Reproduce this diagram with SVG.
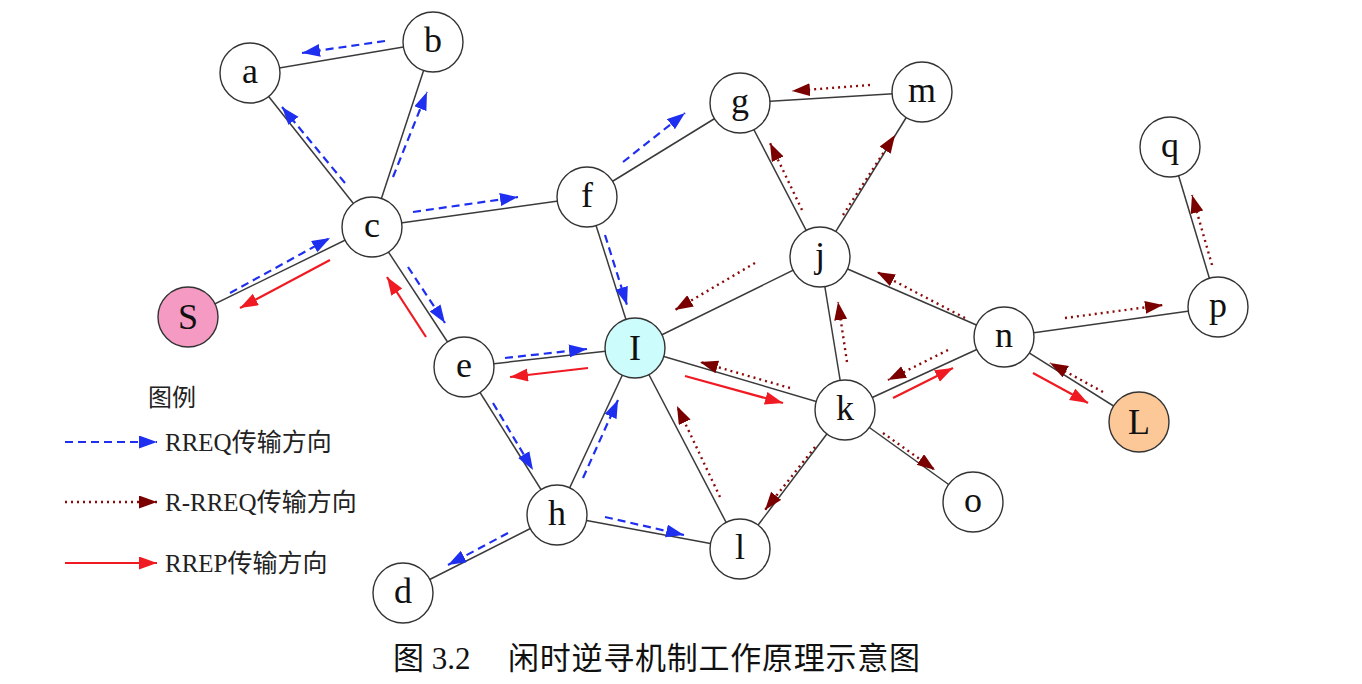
<svg xmlns="http://www.w3.org/2000/svg" width="1362" height="684" viewBox="0 0 1362 684">
<style>
.edge{stroke:#3a3a3a;stroke-width:1.5;fill:none}
.node circle{fill:#fff;stroke:#333;stroke-width:1.4}
.node text{font-family:"Liberation Serif","Times New Roman",serif;font-size:36px;text-anchor:middle;fill:#111}
.req{stroke:#1f2ff0;stroke-width:2.2;stroke-dasharray:8 5;fill:none;marker-end:url(#mb)}
.rreq{stroke:#8a0a0a;stroke-width:2.4;stroke-dasharray:2 4;fill:none;marker-end:url(#md)}
.rep{stroke:#f01a22;stroke-width:2.2;fill:none;marker-end:url(#mr)}
.lg{font-family:"Liberation Serif","Noto Sans CJK SC",serif;font-size:25px;fill:#222}
.cap{font-family:"Liberation Serif","Noto Sans CJK SC",serif;font-size:31px;fill:#111}
</style>
<defs>
<marker id="mb" markerUnits="userSpaceOnUse" markerWidth="20" markerHeight="14" refX="18" refY="6.5" orient="auto"><path d="M0,0 L18,6.5 L0,13 z" fill="#1f2ff0"/></marker>
<marker id="md" markerUnits="userSpaceOnUse" markerWidth="20" markerHeight="14" refX="18" refY="6.5" orient="auto"><path d="M0,0 L18,6.5 L0,13 z" fill="#7a0000"/></marker>
<marker id="mr" markerUnits="userSpaceOnUse" markerWidth="20" markerHeight="14" refX="18" refY="6.5" orient="auto"><path d="M0,0 L18,6.5 L0,13 z" fill="#f01a22"/></marker>
</defs>
<rect width="1362" height="684" fill="#fff"/>
<g id="edges">
<line class="edge" x1="250" y1="73" x2="433" y2="42"/>
<line class="edge" x1="250" y1="73" x2="372" y2="227"/>
<line class="edge" x1="433" y1="42" x2="372" y2="227"/>
<line class="edge" x1="372" y1="227" x2="188" y2="317"/>
<line class="edge" x1="372" y1="227" x2="587" y2="197"/>
<line class="edge" x1="372" y1="227" x2="464" y2="367"/>
<line class="edge" x1="587" y1="197" x2="740" y2="103"/>
<line class="edge" x1="587" y1="197" x2="635" y2="348"/>
<line class="edge" x1="740" y1="103" x2="922" y2="92"/>
<line class="edge" x1="740" y1="103" x2="820" y2="257"/>
<line class="edge" x1="922" y1="92" x2="820" y2="257"/>
<line class="edge" x1="820" y1="257" x2="635" y2="348"/>
<line class="edge" x1="820" y1="257" x2="1004" y2="337"/>
<line class="edge" x1="820" y1="257" x2="845" y2="410"/>
<line class="edge" x1="635" y1="348" x2="464" y2="367"/>
<line class="edge" x1="635" y1="348" x2="557" y2="515"/>
<line class="edge" x1="635" y1="348" x2="740" y2="549"/>
<line class="edge" x1="635" y1="348" x2="845" y2="410"/>
<line class="edge" x1="464" y1="367" x2="557" y2="515"/>
<line class="edge" x1="557" y1="515" x2="403" y2="593"/>
<line class="edge" x1="557" y1="515" x2="740" y2="549"/>
<line class="edge" x1="740" y1="549" x2="845" y2="410"/>
<line class="edge" x1="845" y1="410" x2="1004" y2="337"/>
<line class="edge" x1="845" y1="410" x2="973" y2="502"/>
<line class="edge" x1="1004" y1="337" x2="1218" y2="307"/>
<line class="edge" x1="1004" y1="337" x2="1139" y2="422"/>
<line class="edge" x1="1218" y1="307" x2="1170" y2="147"/>
</g>
<g id="connectors">
<line class="req" x1="385" y1="41" x2="302" y2="53"/>
<line class="req" x1="345" y1="183" x2="282" y2="107"/>
<line class="req" x1="393" y1="177" x2="427" y2="92"/>
<line class="req" x1="230" y1="293" x2="330" y2="238"/>
<line class="req" x1="413" y1="212" x2="518" y2="197"/>
<line class="req" x1="408" y1="267" x2="445" y2="323"/>
<line class="req" x1="605" y1="235" x2="627" y2="305"/>
<line class="req" x1="505" y1="358" x2="587" y2="349"/>
<line class="req" x1="623" y1="162" x2="685" y2="113"/>
<line class="req" x1="493" y1="403" x2="533" y2="470"/>
<line class="req" x1="583" y1="478" x2="618" y2="400"/>
<line class="req" x1="508" y1="533" x2="448" y2="565"/>
<line class="req" x1="605" y1="517" x2="684" y2="535"/>
<line class="rreq" x1="870" y1="85" x2="792" y2="91"/>
<line class="rreq" x1="802" y1="210" x2="770" y2="143"/>
<line class="rreq" x1="843" y1="215" x2="895" y2="135"/>
<line class="rreq" x1="755" y1="263" x2="675" y2="310"/>
<line class="rreq" x1="965" y1="318" x2="877" y2="272"/>
<line class="rreq" x1="847" y1="362" x2="838" y2="302"/>
<line class="rreq" x1="790" y1="388" x2="700" y2="362"/>
<line class="rreq" x1="720" y1="497" x2="677" y2="406"/>
<line class="rreq" x1="815" y1="447" x2="765" y2="510"/>
<line class="rreq" x1="883" y1="433" x2="935" y2="470"/>
<line class="rreq" x1="948" y1="350" x2="888" y2="380"/>
<line class="rreq" x1="1065" y1="318" x2="1163" y2="305"/>
<line class="rreq" x1="1103" y1="392" x2="1050" y2="363"/>
<line class="rreq" x1="1212" y1="265" x2="1192" y2="195"/>
<line class="rep" x1="330" y1="260" x2="240" y2="308"/>
<line class="rep" x1="426" y1="337" x2="387" y2="277"/>
<line class="rep" x1="588" y1="368" x2="510" y2="377"/>
<line class="rep" x1="685" y1="376" x2="783" y2="403"/>
<line class="rep" x1="893" y1="398" x2="953" y2="368"/>
<line class="rep" x1="1033" y1="373" x2="1088" y2="403"/>
</g>
<g id="node-a" class="node"><circle cx="250" cy="73" r="30"/><text x="250" y="83">a</text></g>
<g id="node-b" class="node"><circle cx="433" cy="42" r="30"/><text x="433" y="52">b</text></g>
<g id="node-c" class="node"><circle cx="372" cy="227" r="30"/><text x="372" y="237">c</text></g>
<g id="node-S" class="node"><circle cx="188" cy="317" r="30" style="fill:#f59ac3"/><text x="188" y="329">S</text></g>
<g id="node-f" class="node"><circle cx="587" cy="197" r="30"/><text x="587" y="207">f</text></g>
<g id="node-g" class="node"><circle cx="740" cy="103" r="30"/><text x="740" y="113">g</text></g>
<g id="node-m" class="node"><circle cx="922" cy="92" r="30"/><text x="922" y="102">m</text></g>
<g id="node-q" class="node"><circle cx="1170" cy="147" r="30"/><text x="1170" y="157">q</text></g>
<g id="node-j" class="node"><circle cx="820" cy="257" r="30"/><text x="820" y="267">j</text></g>
<g id="node-p" class="node"><circle cx="1218" cy="307" r="30"/><text x="1218" y="317">p</text></g>
<g id="node-n" class="node"><circle cx="1004" cy="337" r="30"/><text x="1004" y="347">n</text></g>
<g id="node-I" class="node"><circle cx="635" cy="348" r="30" style="fill:#ccfcfc"/><text x="635" y="360">I</text></g>
<g id="node-e" class="node"><circle cx="464" cy="367" r="30"/><text x="464" y="377">e</text></g>
<g id="node-k" class="node"><circle cx="845" cy="410" r="30"/><text x="845" y="420">k</text></g>
<g id="node-L" class="node"><circle cx="1139" cy="422" r="30" style="fill:#fcc898"/><text x="1139" y="434">L</text></g>
<g id="node-o" class="node"><circle cx="973" cy="502" r="30"/><text x="973" y="512">o</text></g>
<g id="node-h" class="node"><circle cx="557" cy="515" r="30"/><text x="557" y="525">h</text></g>
<g id="node-l" class="node"><circle cx="740" cy="549" r="30"/><text x="740" y="559">l</text></g>
<g id="node-d" class="node"><circle cx="403" cy="593" r="30"/><text x="403" y="603">d</text></g>
<g id="legend">
<text class="lg" x="148" y="406" style="font-size:24px">图例</text>
<line x1="65" y1="442" x2="157" y2="442" style="stroke:#1f2ff0;stroke-width:2.2;stroke-dasharray:8 5;marker-end:url(#mb)"/>
<text class="lg" x="165" y="451">RREQ传输方向</text>
<line x1="65" y1="502" x2="157" y2="502" style="stroke:#8a0a0a;stroke-width:2.4;stroke-dasharray:2 4;marker-end:url(#md)"/>
<text class="lg" x="165" y="511">R-RREQ传输方向</text>
<line x1="65" y1="563" x2="157" y2="563" style="stroke:#f01a22;stroke-width:2.2;marker-end:url(#mr)"/>
<text class="lg" x="165" y="572">RREP传输方向</text>
</g>
<text class="cap" x="393" y="669">图 3.2</text>
<text class="cap" x="508" y="669" textLength="412" lengthAdjust="spacing">闲时逆寻机制工作原理示意图</text>
</svg>
